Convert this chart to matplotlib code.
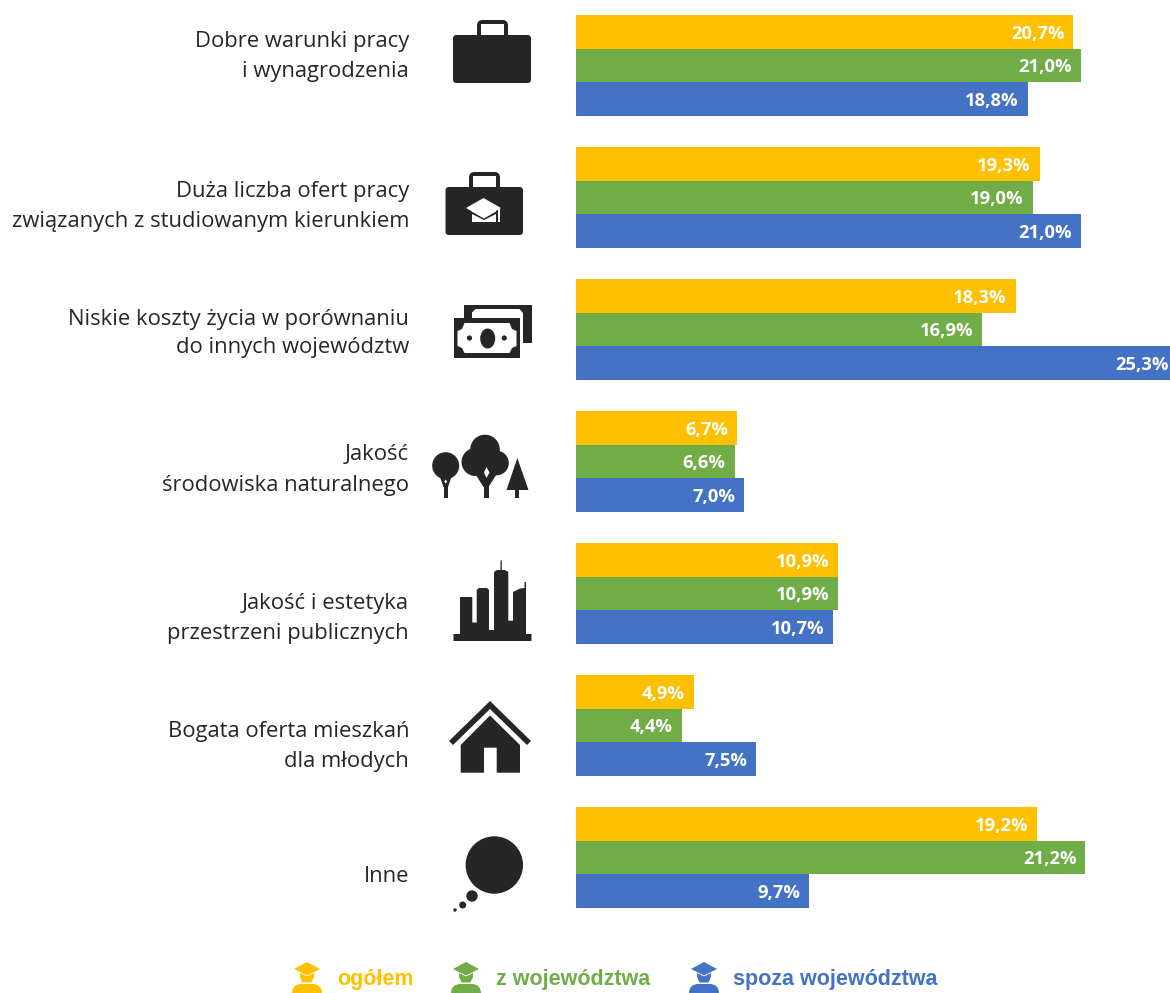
import matplotlib
matplotlib.use("Agg")
import matplotlib.pyplot as plt
from matplotlib.patches import Polygon, Circle, Ellipse, FancyBboxPatch, Rectangle

categories = [
    ["Dobre warunki pracy", "i wynagrodzenia"],
    ["Duża liczba ofert pracy", "związanych z studiowanym kierunkiem"],
    ["Niskie koszty życia w porównaniu", "do innych województw"],
    ["Jakość", "środowiska naturalnego"],
    ["Jakość i estetyka", "przestrzeni publicznych"],
    ["Bogata oferta mieszkań", "dla młodych"],
    ["Inne"],
]
ogolem = [20.7, 19.3, 18.3, 6.7, 10.9, 4.9, 19.2]
z_wojewodztwa = [21.0, 19.0, 16.9, 6.6, 10.9, 4.4, 21.2]
spoza_wojewodztwa = [18.8, 21.0, 25.3, 7.0, 10.7, 7.5, 9.7]
series_names = ["ogółem", "z województwa", "spoza województwa"]

YELLOW, GREEN, BLUE = "#FFC000", "#70AD47", "#4472C4"
DARK = "#262626"
W, H = 1170, 993
PX_PER_PCT = 24.03
GROUP_STEP = 132.0
GROUP_C0 = 65.5
BAR_H = 33.6

fig = plt.figure(figsize=(W / 100, H / 100), dpi=100, facecolor="white")
ax = fig.add_axes([576 / W, 0, 1 - 576 / W, 1])
xmax = (W - 576) / PX_PER_PCT
ax.set_xlim(0, xmax)
ax.set_ylim((H - GROUP_C0) / GROUP_STEP, -GROUP_C0 / GROUP_STEP)
ax.axis("off")

bh = BAR_H / GROUP_STEP
for k, (vals, col) in enumerate(zip([ogolem, z_wojewodztwa, spoza_wojewodztwa], [YELLOW, GREEN, BLUE])):
    ys = [i + (k - 1) * bh for i in range(len(vals))]
    ax.barh(ys, vals, height=bh, color=col, linewidth=0)
    for y, v in zip(ys, vals):
        # a bar running past the edge keeps its label just inside the picture
        anchor = min(v, xmax)
        dx = -6.4 if v < xmax else -1.0
        ax.annotate(f"{v:.1f}%".replace(".", ","), (anchor, y), xytext=(dx, -1.4), textcoords="offset points",
                    ha="right", va="center", color="white", fontsize=13.2, fontweight="bold",
                    family="Open Sans", annotation_clip=False)

# pixel overlay for labels, icons and legend
ov = fig.add_axes([0, 0, 1, 1], zorder=5)
ov.set_xlim(0, W)
ov.set_ylim(H, 0)
ov.axis("off")
ov.patch.set_alpha(0)

label_y = [(41, 71), (191, 221), (319, 348), (455, 485), (603, 633), (732, 762), (876,)]
for lines, ypos in zip(categories, label_y):
    for line, y in zip(lines, ypos):
        ov.text(409, y, line, ha="right", va="center", fontsize=15.85, color=DARK, family="Open Sans")


def rbox(x0, y0, x1, y1, r, fc=DARK, z=2):
    ov.add_patch(FancyBboxPatch((x0 + r, y0 + r), x1 - x0 - 2 * r, y1 - y0 - 2 * r,
                                boxstyle=f"round,pad={r},rounding_size={r}", fc=fc, ec="none", zorder=z))


def poly(pts, fc=DARK, z=2):
    ov.add_patch(Polygon(pts, closed=True, fc=fc, ec="none", zorder=z))


def circ(x, y, r, fc=DARK, z=2):
    ov.add_patch(Circle((x, y), r, fc=fc, ec="none", zorder=z))


def handle(x0, x1, y0, y1, t=4):
    rbox(x0, y0, x1, y1 + 6, 5.5)
    ov.add_patch(Rectangle((x0 + t, y0 + t), x1 - x0 - 2 * t, y1 - y0, fc="white", ec="none", zorder=2.1))


# briefcase 1
handle(477, 508, 20, 35)
rbox(453, 35, 531, 83, 3.5, z=3)
# briefcase 2 with cap
handle(469, 500, 172, 187)
rbox(445.5, 187, 523, 235, 3.5, z=3)
poly([(472, 211), (472, 222), (496, 222), (496, 211)], "white", 4)
poly([(471, 211), (484, 218.5), (497, 211), (497, 213.5), (484, 220), (471, 213.5)], DARK, 4.5)
poly([(466, 208), (483.5, 198), (501, 208), (483.5, 218)], "white", 5)
ov.add_patch(Rectangle((498.3, 209), 1.5, 13, fc="white", ec="none", zorder=5))

# money
poly([(464, 305), (531.5, 305), (531.5, 343), (523, 343), (523, 320), (464, 320)])
poly([(472, 322), (472, 312.5), (475.5, 309), (519.5, 309), (523, 313), (523, 322)], "white", 2.1)
ov.add_patch(Rectangle((453.5, 318), 66.5, 39.5, fc=DARK, ec="none", zorder=3))
poly([(457.5, 331), (462, 329), (464.5, 323), (509.5, 323), (512, 329), (516.5, 331),
      (516.5, 346), (512, 348), (509.5, 353), (464.5, 353), (462, 348), (457.5, 346)], "white", 4)
ov.add_patch(Ellipse((487.7, 338.5), 15, 20, fc=DARK, ec="none", zorder=5))
circ(469.5, 338, 2.6, z=5)
circ(504.3, 338, 2.6, z=5)

# trees
circ(445.7, 465.7, 13.5)
ov.add_patch(Rectangle((443.5, 476), 4.5, 22, fc=DARK, ec="none", zorder=2))
poly([(440, 477), (451.5, 477), (448, 487), (443.5, 487)])
poly([(445.7, 479.5), (447.2, 481.5), (445.7, 483.5), (444.2, 481.5)], "white", 3)
circ(485, 449.5, 14.8)
circ(475.5, 462, 14)
circ(496.5, 463, 12.3)
circ(486, 460, 14)
ov.add_patch(Rectangle((483.5, 470), 5, 28, fc=DARK, ec="none", zorder=2))
poly([(474, 472), (498, 472), (488.5, 487), (483.5, 487)])
poly([(486.5, 467), (489.5, 472.5), (486.5, 478), (484, 472.5)], "white", 3)
poly([(517.3, 458), (528.5, 490), (506.5, 490)])
ov.add_patch(Rectangle((515.2, 488), 4.2, 10, fc=DARK, ec="none", zorder=2))

# city
poly([(453.5, 634), (460, 634), (460, 597), (472.3, 597), (472.3, 622.5), (476.7, 622.5), (476.7, 590),
      (479, 588), (487, 588), (489, 590), (489, 630), (494, 630), (494, 572), (497, 570), (500.5, 570),
      (500.5, 560.5), (501.8, 560.5), (501.8, 570), (505, 570), (508.3, 572), (508.3, 620.7), (513, 620.7),
      (513, 592), (520, 588.5), (524.5, 588), (524.5, 582), (526, 582), (526, 634), (531.5, 634),
      (531.5, 641), (453.5, 641)])

# house
poly([(490, 701), (531, 741), (527, 745), (490, 709), (453, 745), (449, 741)])
poly([(490, 715.5), (520, 745), (520, 772.7), (496.7, 772.7), (496.7, 747.7), (484, 747.7), (484, 772.7),
      (460.7, 772.7), (460.7, 745)])

# thought bubble
circ(494.3, 865, 28.7)
circ(472, 896, 5.7)
circ(462.7, 905, 3.5)
circ(455, 910, 1.7)


def person(cx, col):
    poly([(cx - 13, 969), (cx, 962), (cx + 13, 969), (cx, 975.5)], col)
    poly([(cx - 7, 973), (cx, 976.5), (cx + 7, 973), (cx + 7, 977), (cx + 4.5, 982.5), (cx - 4.5, 982.5), (cx - 7, 977)], col)
    ov.add_patch(Rectangle((cx + 10.5, 970), 0.9, 8, fc=col, ec="none", zorder=2))
    rbox(cx - 15, 984, cx + 15, 1004, 9.5, fc=col)


for name, cx, tx, col in zip(series_names, [307, 466, 704], [337, 496, 733], [YELLOW, GREEN, BLUE]):
    person(cx, col)
    ov.text(tx, 979, name, ha="left", va="center", fontsize=15.5, fontweight="bold", color=col, family="Liberation Sans")

fig.savefig("out.png", dpi=100, facecolor="white")
